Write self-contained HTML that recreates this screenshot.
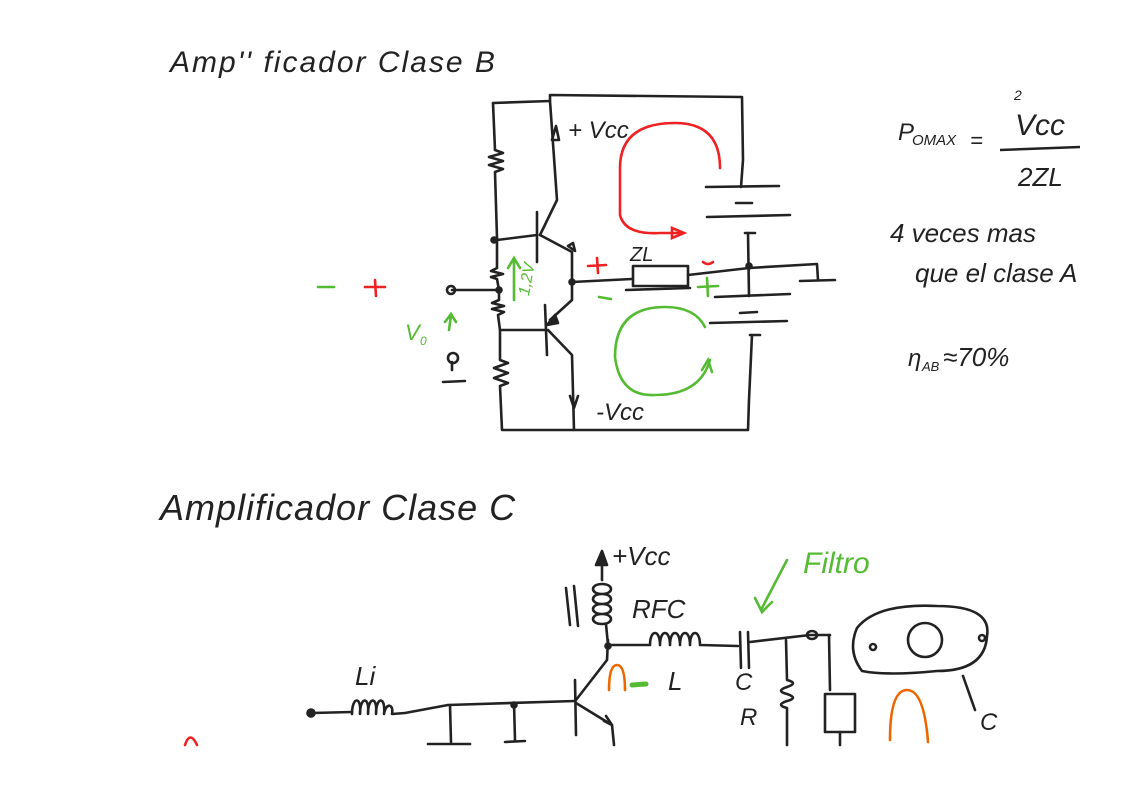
<!DOCTYPE html>
<html><head><meta charset="utf-8"><style>
html,body{margin:0;padding:0;background:#fff;width:1123px;height:793px;overflow:hidden}
svg{display:block}
text{font-family:"Liberation Sans",sans-serif}
</style></head><body>
<svg width="1123" height="793" viewBox="0 0 1123 793" xmlns="http://www.w3.org/2000/svg">
<g fill="none" stroke="#222" stroke-width="2.6" stroke-linecap="round" stroke-linejoin="round">
<path d="M493 103 L550 101 L550 95 L742 97 L743 160 L741 187"/>
<path d="M493 103 L495 150"/>
<path d="M495 150 l8 3 -14 4 14 4 -14 4 14 4 -8 3 L497 238"/>
<path d="M497 238 L497 268 l-6 3 12 3 -12 3 6 2 L499 290"/>
<path d="M499 290 L499 300 l-7 3 12 3 -12 3 12 3 -6 3 L500 330 L500 360 l8 3 -14 5 14 5 -14 5 14 5 -8 3 L502 430 L748 430 L749 400 L752 335"/>
<path d="M452 290 L499 290"/>
<circle cx="451" cy="290" r="4"/>
<circle cx="494" cy="240" r="2.5" fill="#222"/><circle cx="499" cy="290" r="2.5" fill="#222"/><circle cx="572" cy="282" r="2.5" fill="#222"/><circle cx="749" cy="266" r="2.5" fill="#222"/>
<path d="M550 101 L557 200 L540 235"/>
<path d="M537 212 L537 262"/>
<path d="M497 240 L537 235"/>
<path d="M540 235 L572 252 L572 300 L550 320"/>
<path d="M568 246 l5 -3 2 8 z"/>
<path d="M552 140 l4 -14 3 14 z"/>
<path d="M545 305 L547 355"/>
<path d="M500 330 L545 330"/>
<path d="M555 315 l-8 10 11 -2 z" fill="#222"/>
<path d="M548 330 L572 355 L574 430"/>
<path d="M570 396 l4 12 4 -12"/>
<path d="M572 282 L632 279"/>
<rect x="633" y="266" width="55" height="20"/>
<path d="M626 290 L690 288"/>
<path d="M688 275 L749 268 L817 264 L818 280"/>
<path d="M800 281 L835 280"/>
<path d="M706 187 L779 186"/><path d="M736 203 L752 203"/><path d="M707 217 L790 215"/>
<path d="M745 233 L755 233"/><path d="M748 233 L749 296"/>
<path d="M715 297 L790 294"/><path d="M740 313 L757 312"/><path d="M710 323 L787 321"/>
<path d="M750 335 L760 335"/>
<!-- Class C -->
<path d="M312 713 L352 712"/>
<circle cx="311" cy="713" r="3.5" fill="#222"/>
<path d="M352 714 c0 -18 10 -18 8 0 c0 -18 10 -18 8 0 c0 -18 10 -18 8 0 c0 -18 10 -18 8 0 c2 -12 10 -10 8 0 L405 713 L448 705 L575 701"/>
<path d="M450 705 L451 742"/><path d="M428 744 L470 744"/>
<path d="M514 703 L515 740"/><path d="M505 742 L525 741"/>
<circle cx="514" cy="705" r="2.5" fill="#222"/>
<path d="M575 680 L576 735"/>
<path d="M576 700 L607 660 L608 640"/>
<path d="M576 703 L612 725 L614 745"/>
<path d="M604 721 l8 4 -6 -9"/>
<path d="M602 580 L602 555"/><path d="M596 565 l6 -14 5 14 z" fill="#222"/>
<path d="M602 584 c-12 0 -12 10 0 10 c12 0 12 -10 0 -10 M602 594 c-12 0 -12 10 0 10 c12 0 12 -10 0 -10 M602 604 c-12 0 -12 10 0 10 c12 0 12 -10 0 -10 M602 614 c-12 0 -12 10 0 10 c12 0 12 -10 0 -10 M606 624 L608 645"/>
<path d="M566 588 L570 625"/><path d="M574 586 L578 626"/>
<circle cx="608" cy="646" r="2.5" fill="#222"/>
<path d="M608 645 L650 645 c0 -16 10 -16 10 0 c0 -16 10 -16 10 0 c0 -16 10 -16 10 0 c0 -16 10 -16 10 0 c0 -16 10 -16 10 0 L738 646"/>
<path d="M740 632 L741 668"/><path d="M748 632 L749 668"/>
<path d="M750 642 L810 635 L830 635"/>
<ellipse cx="812" cy="635" rx="5" ry="4"/>
<path d="M786 640 L787 680 q12 3 0 7 q-12 4 0 7 q12 4 0 7 q-12 4 0 7 L787 745"/>
<path d="M829 635 L830 690"/>
<rect x="825" y="694" width="30" height="38"/>
<path d="M840 732 L840 745"/>
<path d="M857 628 q20 -25 80 -22 q55 0 50 30 q-2 35 -50 35 q-50 5 -75 0 q-15 -20 -5 -43 z"/>
<circle cx="925" cy="640" r="17"/>
<circle cx="873" cy="647" r="3"/><circle cx="982" cy="638" r="3"/>
<path d="M963 676 L975 710"/>
</g>
<g fill="none" stroke-width="2.6" stroke-linecap="round">
<path d="M720 168 q0 -45 -45 -45 q-55 0 -55 45 L620 215 q5 20 40 18 L680 233" stroke="#e22"/>
<path d="M672 228 l12 5 -12 5 z" stroke="#e22"/>
<path d="M705 327 q-10 -20 -40 -20 q-50 0 -50 50 q5 40 40 38 q45 0 55 -35" stroke="#5b3"/>
<path d="M702 370 l6 -10 4 12" stroke="#5b3"/>
<path d="M514 300 L514 258 M508 268 l6 -10 6 10" stroke="#5b3"/>
<path d="M449 330 L451 315 M445 322 l6 -8 5 8" stroke="#5b3"/>
<path d="M318 287 L334 287" stroke="#5b3"/>
<path d="M365 287 L385 287 M375 280 L376 296" stroke="#e22"/>
<path d="M588 266 L606 265 M597 258 L598 273" stroke="#e22"/>
<path d="M599 297 L611 299" stroke="#5b3"/>
<path d="M698 287 L718 286 M707 278 L708 296" stroke="#5b3"/>
<path d="M703 262 q5 4 10 0" stroke="#e22"/>
<path d="M452 370 L452 362 M443 382 L465 381" stroke="#222"/>
<circle cx="453" cy="358" r="5" stroke="#222"/>
<path d="M609 690 q0 -25 8 -25 q8 0 8 25" stroke="#e60"/>
<path d="M632 685 L646 684" stroke="#5b3" stroke-width="5"/>
<path d="M890 740 q0 -50 17 -50 q17 0 21 52" stroke="#e60"/>
<path d="M185 745 q5 -15 12 0" stroke="#e22"/>
<path d="M787 560 L762 608 M755 598 L762 612 L772 602" stroke="#5b3"/>
</g>
<g fill="#222" font-style="italic">
<text x="170" y="72" font-size="30" letter-spacing="2">Amp'' ficador    Clase  B</text>
<text x="568" y="138" font-size="24">+ Vcc</text>
<text x="596" y="420" font-size="24">-Vcc</text>
<text x="630" y="261" font-size="20">ZL</text>
<text x="898" y="140" font-size="24">P</text><text x="912" y="145" font-size="15">OMAX</text>
<text x="970" y="148" font-size="22">=</text>
<text x="1015" y="135" font-size="30">Vcc</text><text x="1014" y="100" font-size="14">2</text>
<path d="M1000 150 L1080 147" stroke="#222" stroke-width="2.5"/>
<text x="1018" y="186" font-size="26">2ZL</text>
<text x="890" y="242" font-size="26">4 veces mas</text>
<text x="915" y="282" font-size="26">que el clase A</text>
<text x="908" y="366" font-size="24">η</text><text x="922" y="371" font-size="13">AB</text><text x="943" y="366" font-size="26">≈70%</text>
<text x="160" y="520" font-size="36" letter-spacing="1">Amplificador  Clase  C</text>
<text x="612" y="565" font-size="26">+Vcc</text>
<text x="632" y="618" font-size="26">RFC</text>
<text x="355" y="685" font-size="26">Li</text>
<text x="668" y="690" font-size="26">L</text>
<text x="735" y="690" font-size="24">C</text>
<text x="740" y="725" font-size="24">R</text>
<text x="980" y="730" font-size="24">C</text>
</g>
<g fill="#5b3" font-style="italic">
<text x="803" y="573" font-size="30">Filtro</text>
<text x="405" y="340" font-size="22">V</text><text x="420" y="345" font-size="12">0</text>
<text x="522" y="292" font-size="16" transform="rotate(-80 528 290)">1,2V</text>
</g>
</svg>
</body></html>
